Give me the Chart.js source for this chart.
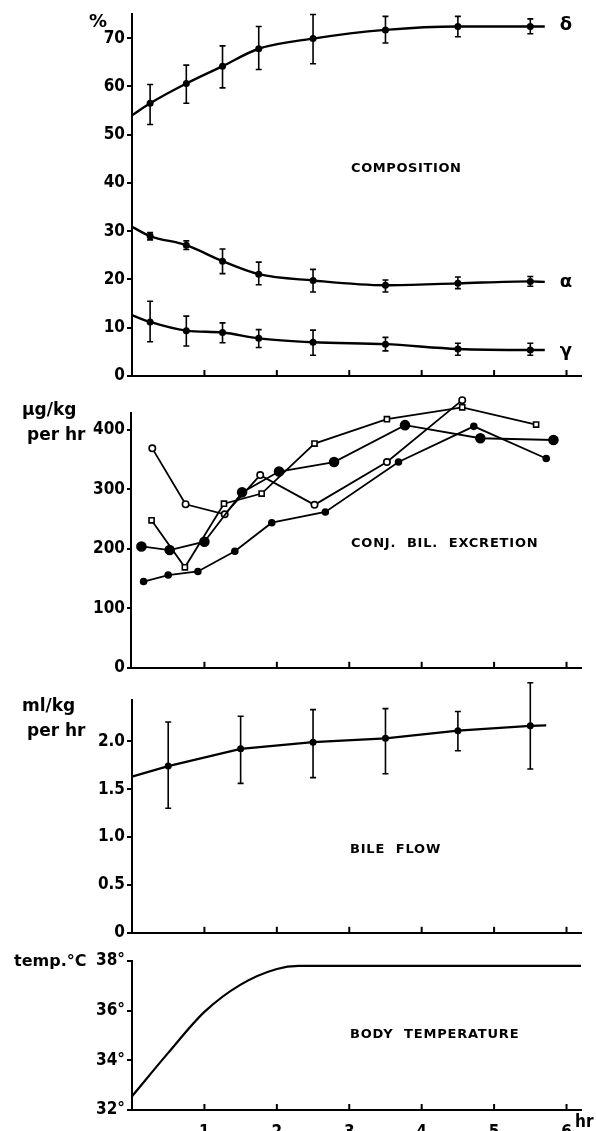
<!DOCTYPE html>
<html>
<head>
<meta charset="utf-8">
<script src="https://cdn.jsdelivr.net/npm/chart.js@4.4.0/dist/chart.umd.min.js"></script>
<style>
  body { margin: 0; background: #fff; width: 596px; height: 1131px; overflow: hidden; position: relative; }
  .panel { position: absolute; left: 0; width: 596px; }
</style>
</head>
<body>
<script>
// x axis (hours)
const hourTicks = [1, 2, 3, 4, 5, 6];

// composition (%)
const compTicks = [0, 10, 20, 30, 40, 50, 60, 70];
const compHours = [0.25, 0.75, 1.25, 1.75, 2.5, 3.5, 4.5, 5.5];
const compLineStart = 0, compLineEnd = 5.7;
const delta = [56.5, 60.6, 64.2, 67.8, 69.9, 71.7, 72.4, 72.4];
const deltaLo = [52.1, 56.5, 59.7, 63.5, 64.7, 69.0, 70.3, 70.9];
const deltaHi = [60.4, 64.4, 68.4, 72.4, 74.9, 74.5, 74.5, 74.0];
const deltaStart = 54.0, deltaEnd = 72.4;
const alpha = [29.0, 27.1, 23.8, 21.1, 19.8, 18.8, 19.2, 19.6];
const alphaLo = [28.2, 26.2, 21.2, 18.9, 17.4, 17.4, 18.1, 18.6];
const alphaHi = [29.7, 28.0, 26.3, 23.6, 22.1, 19.9, 20.5, 20.6];
const alphaStart = 30.9, alphaEnd = 19.5;
const gamma = [11.2, 9.4, 9.0, 7.8, 7.0, 6.6, 5.6, 5.4];
const gammaLo = [7.1, 6.2, 6.9, 5.9, 4.3, 5.2, 4.3, 4.3];
const gammaHi = [15.5, 12.4, 11.0, 9.6, 9.5, 8.0, 6.8, 6.8];
const gammaStart = 12.6, gammaEnd = 5.4;

// conj. bil. excretion (µg/kg per hr), four animals
const excrTicks = [0, 100, 200, 300, 400];
const excrAxisTop = 430;
const solidSmallHours = [0.16, 0.50, 0.91, 1.42, 1.93, 2.67, 3.68, 4.72, 5.72];
const solidSmall = [145, 156, 162, 196, 244, 262, 346, 406, 352];
const solidLargeHours = [0.13, 0.52, 1.00, 1.52, 2.03, 2.79, 3.77, 4.81, 5.82];
const solidLarge = [204, 198, 212, 295, 330, 346, 408, 386, 383];
const openCircleHours = [0.28, 0.74, 1.28, 1.77, 2.52, 3.52, 4.56];
const openCircle = [369, 275, 258, 324, 274, 346, 450];
const openSquareHours = [0.27, 0.73, 1.27, 1.79, 2.52, 3.52, 4.56, 5.58];
const openSquare = [248, 169, 276, 293, 377, 418, 438, 409];

// bile flow (ml/kg per hr)
const bileTicks = [0, 0.5, 1.0, 1.5, 2.0];
const bileHours = [0.5, 1.5, 2.5, 3.5, 4.5, 5.5];
const bile = [1.74, 1.92, 1.99, 2.03, 2.11, 2.16];
const bileLo = [1.30, 1.56, 1.62, 1.66, 1.90, 1.71];
const bileHi = [2.20, 2.26, 2.33, 2.34, 2.31, 2.61];
const bileStart = 1.63, bileEnd = 2.165, bileLineEnd = 5.72;

// body temperature (°C)
const tempTicks = [32, 34, 36, 38];
const tempHours = [0, 0.5, 1.0, 1.5, 2.0, 2.3, 6.2];
const temp = [32.55, 34.3, 35.95, 37.05, 37.68, 37.8, 37.8];

const FONT = 'DejaVu Sans Condensed, DejaVu Sans, sans-serif';
const WIDE = 'DejaVu Sans, sans-serif';
const PLOT_LEFT = 132, PLOT_RIGHT = 581, X_MAX = 6.2;

function pts(xs, ys) {
  return xs.map((x, i) => ({ x: x, y: ys[i] }));
}

// line that starts/ends without a marker
function withEnds(x0, y0, xs, ys, x1, y1) {
  return [{ x: x0, y: y0 }].concat(pts(xs, ys), [{ x: x1, y: y1 }]);
}

function endlessRadius(r) {
  return ctx => (ctx.dataIndex === 0 || ctx.dataIndex === ctx.dataset.data.length - 1) ? 0 : r;
}

const decor = {
  id: 'decor',
  beforeDatasetsDraw(chart, args, opts) {
    const ctx = chart.ctx, x = chart.scales.x, y = chart.scales.y;
    ctx.save();
    ctx.strokeStyle = '#000';
    ctx.lineWidth = 1.6;
    (opts.errors || []).forEach(e => {
      e.xs.forEach((h, i) => {
        const px = x.getPixelForValue(h);
        const top = y.getPixelForValue(e.hi[i]);
        const bot = y.getPixelForValue(e.lo[i]);
        ctx.beginPath();
        ctx.moveTo(px, top); ctx.lineTo(px, bot);
        ctx.moveTo(px - 3, top); ctx.lineTo(px + 3, top);
        ctx.moveTo(px - 3, bot); ctx.lineTo(px + 3, bot);
        ctx.stroke();
      });
    });
    // value axis shorter than the plot, so marks may stand above it
    if (opts.axisTop !== undefined) {
      const area = chart.chartArea;
      ctx.lineWidth = 2;
      ctx.beginPath();
      ctx.moveTo(area.left - 1, area.bottom);
      ctx.lineTo(area.left - 1, y.getPixelForValue(opts.axisTop));
      ctx.stroke();
    }
    ctx.restore();
  },
  afterDraw(chart, args, opts) {
    const ctx = chart.ctx, x = chart.scales.x, area = chart.chartArea;
    ctx.save();
    // tick marks on the time axis point into the plot
    ctx.strokeStyle = '#000';
    ctx.lineWidth = 2;
    hourTicks.forEach(h => {
      const px = x.getPixelForValue(h);
      ctx.beginPath();
      ctx.moveTo(px, area.bottom);
      ctx.lineTo(px, area.bottom - 6);
      ctx.stroke();
    });
    ctx.fillStyle = '#000';
    ctx.textBaseline = 'middle';
    (opts.texts || []).forEach(t => {
      ctx.font = 'bold ' + t.size + 'px ' + (t.family || FONT);
      ctx.textAlign = t.align || 'left';
      ctx.letterSpacing = (t.spacing || 0) + 'px';
      ctx.fillText(t.t, t.x, t.y - opts.top);
    });
    ctx.restore();
  }
};

function makePanel(p) {
  const wrap = document.createElement('div');
  wrap.className = 'panel';
  wrap.style.top = p.top + 'px';
  wrap.style.height = p.height + 'px';
  const canvas = document.createElement('canvas');
  canvas.width = 596;
  canvas.height = p.height;
  wrap.appendChild(canvas);
  document.body.appendChild(wrap);

  new Chart(canvas, {
    type: 'line',
    data: { datasets: p.datasets },
    plugins: [decor],
    options: {
      responsive: false,
      animation: false,
      devicePixelRatio: 1,
      layout: { padding: { left: 0, right: 596 - PLOT_RIGHT, top: p.areaTop - p.top, bottom: 0 } },
      plugins: {
        legend: { display: false },
        tooltip: { enabled: false },
        decor: { errors: p.errors, texts: p.texts, top: p.top, axisTop: p.axisTop }
      },
      scales: {
        x: {
          type: 'linear',
          min: 0,
          max: X_MAX,
          afterFit: s => { s.height = p.top + p.height - p.areaBottom; },
          afterBuildTicks: s => { s.ticks = hourTicks.map(v => ({ value: v })); },
          grid: { display: false },
          border: { display: true, color: '#000', width: 2 },
          ticks: {
            display: !!p.xLabels,
            color: '#000',
            padding: 4,
            maxRotation: 0,
            font: { family: FONT, weight: 'bold', size: 17 }
          }
        },
        y: {
          min: p.yMin,
          max: p.yMax,
          afterFit: s => { s.width = PLOT_LEFT; },
          afterBuildTicks: s => { s.ticks = p.yTicks.map(v => ({ value: v })); },
          grid: { drawOnChartArea: false, drawTicks: true, tickLength: 5, color: '#000', lineWidth: 2 },
          border: { display: p.axisTop === undefined, color: '#000', width: 2 },
          ticks: {
            color: '#000',
            padding: 2,
            font: { family: FONT, weight: 'bold', size: 17 },
            callback: p.yFormat
          }
        }
      }
    }
  });
}

const black = '#000';

// COMPOSITION
makePanel({
  top: 0, height: 392, areaTop: 14, areaBottom: 376,
  yMin: 0, yMax: 75, yTicks: compTicks,
  yFormat: v => String(v),
  datasets: [
    [deltaStart, delta, deltaEnd],
    [alphaStart, alpha, alphaEnd],
    [gammaStart, gamma, gammaEnd]
  ].map(s => ({
    data: withEnds(compLineStart, s[0], compHours, s[1], compLineEnd, s[2]),
    borderColor: black, borderWidth: 2.4,
    pointRadius: endlessRadius(3.5), pointBackgroundColor: black, pointBorderWidth: 0,
    cubicInterpolationMode: 'monotone', clip: false
  })),
  errors: [
    { xs: compHours, lo: deltaLo, hi: deltaHi },
    { xs: compHours, lo: alphaLo, hi: alphaHi },
    { xs: compHours, lo: gammaLo, hi: gammaHi }
  ],
  texts: [
    { t: '%', x: 89, y: 22, size: 18, family: WIDE },
    { t: 'COMPOSITION', x: 351, y: 169, size: 13, spacing: 0.6, family: WIDE },
    { t: 'δ', x: 566, y: 25, size: 18, align: 'center', family: WIDE },
    { t: 'α', x: 566, y: 282, size: 18, align: 'center', family: WIDE },
    { t: 'γ', x: 566, y: 351, size: 18, align: 'center', family: WIDE }
  ]
});

// CONJ. BIL. EXCRETION
makePanel({
  top: 385, height: 295, areaTop: 395, areaBottom: 669,
  yMin: 0, yMax: 455, yTicks: excrTicks, axisTop: excrAxisTop,
  yFormat: v => String(v),
  datasets: [
    { data: pts(solidSmallHours, solidSmall), pointRadius: 3, pointStyle: 'circle', pointBackgroundColor: black },
    { data: pts(solidLargeHours, solidLarge), pointRadius: 4.5, pointStyle: 'circle', pointBackgroundColor: black },
    { data: pts(openCircleHours, openCircle), pointRadius: 3.2, pointStyle: 'circle', pointBackgroundColor: '#fff' },
    { data: pts(openSquareHours, openSquare), pointRadius: 3.6, pointStyle: 'rect', pointBackgroundColor: '#fff' }
  ].map(d => Object.assign(d, {
    borderColor: black, borderWidth: 1.8, tension: 0,
    pointBorderColor: black, pointBorderWidth: 1.6, clip: false
  })),
  texts: [
    { t: 'µg/kg', x: 22, y: 411, size: 17, family: WIDE },
    { t: 'per hr', x: 27, y: 436, size: 17, family: WIDE },
    { t: 'CONJ.  BIL.  EXCRETION', x: 351, y: 544, size: 13, spacing: 0.8, family: WIDE }
  ]
});

// BILE FLOW
makePanel({
  top: 675, height: 270, areaTop: 700, areaBottom: 937,
  yMin: 0, yMax: 2.43, yTicks: bileTicks,
  yFormat: v => v === 0 ? '0' : v.toFixed(1),
  datasets: [{
    data: withEnds(0, bileStart, bileHours, bile, bileLineEnd, bileEnd),
    borderColor: black, borderWidth: 2.2, tension: 0,
    pointRadius: endlessRadius(3.5), pointBackgroundColor: black, pointBorderWidth: 0, clip: false
  }],
  errors: [{ xs: bileHours, lo: bileLo, hi: bileHi }],
  texts: [
    { t: 'ml/kg', x: 22, y: 707, size: 17, family: WIDE },
    { t: 'per hr', x: 27, y: 732, size: 17, family: WIDE },
    { t: 'BILE  FLOW', x: 350, y: 850, size: 13, spacing: 0.8, family: WIDE }
  ]
});

// BODY TEMPERATURE
makePanel({
  top: 945, height: 186, areaTop: 961, areaBottom: 1110,
  yMin: 32, yMax: 38, yTicks: tempTicks,
  yFormat: v => v + '°',
  xLabels: true,
  datasets: [{
    data: pts(tempHours, temp),
    borderColor: black, borderWidth: 2.2,
    cubicInterpolationMode: 'monotone', pointRadius: 0, clip: false
  }],
  texts: [
    { t: 'temp.°C', x: 14, y: 962, size: 16, family: WIDE },
    { t: 'BODY  TEMPERATURE', x: 350, y: 1035, size: 13, spacing: 0.8, family: WIDE },
    { t: 'hr', x: 575, y: 1123, size: 17 }
  ]
});
</script>
</body>
</html>
